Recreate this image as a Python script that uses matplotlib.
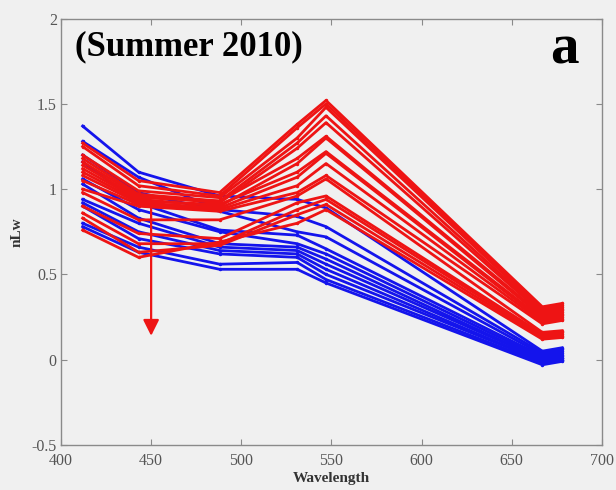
import numpy as np
import matplotlib
matplotlib.use("Agg")
import matplotlib.pyplot as plt

# MODIS band centres (nm)
wavelengths = [412, 443, 488, 531, 547, 667, 678]

# Normalised water-leaving radiance spectra, blue group
blue_spectra = [
    [1.37, 1.10, 0.96, 0.94, 0.89, 0.05, 0.07],
    [1.28, 1.07, 0.88, 0.84, 0.78, 0.04, 0.06],
    [1.20, 0.98, 0.87, 0.75, 0.72, 0.03, 0.05],
    [1.16, 0.92, 0.76, 0.73, 0.65, 0.02, 0.04],
    [1.06, 0.88, 0.75, 0.68, 0.62, 0.01, 0.03],
    [1.03, 0.83, 0.68, 0.66, 0.59, 0.00, 0.02],
    [0.94, 0.80, 0.66, 0.64, 0.56, 0.00, 0.01],
    [0.92, 0.75, 0.64, 0.62, 0.53, -0.01, 0.01],
    [0.90, 0.71, 0.62, 0.60, 0.50, -0.01, 0.00],
    [0.80, 0.66, 0.56, 0.57, 0.47, -0.02, 0.00],
    [0.78, 0.63, 0.53, 0.53, 0.45, -0.03, -0.01],
]

# Red group
red_spectra = [
    [1.27, 1.05, 0.98, 1.38, 1.52, 0.31, 0.33],
    [1.25, 1.02, 0.96, 1.36, 1.50, 0.30, 0.32],
    [1.20, 0.99, 0.95, 1.30, 1.48, 0.29, 0.31],
    [1.18, 0.97, 0.93, 1.27, 1.43, 0.28, 0.30],
    [1.16, 0.96, 0.92, 1.24, 1.39, 0.27, 0.29],
    [1.14, 0.95, 0.93, 1.18, 1.31, 0.26, 0.28],
    [1.12, 0.94, 0.90, 1.15, 1.30, 0.25, 0.27],
    [1.10, 0.93, 0.91, 1.10, 1.22, 0.24, 0.26],
    [1.08, 0.92, 0.89, 1.07, 1.21, 0.23, 0.25],
    [1.05, 0.91, 0.88, 1.02, 1.15, 0.22, 0.24],
    [1.00, 0.90, 0.87, 0.98, 1.08, 0.21, 0.23],
    [0.98, 0.82, 0.82, 0.96, 1.06, 0.16, 0.17],
    [0.90, 0.74, 0.71, 0.92, 0.96, 0.15, 0.16],
    [0.86, 0.68, 0.68, 0.88, 0.94, 0.14, 0.15],
    [0.83, 0.63, 0.67, 0.85, 0.91, 0.13, 0.14],
    [0.76, 0.60, 0.69, 0.80, 0.88, 0.12, 0.13],
]

arrow_x = 450
arrow_from = 0.93
arrow_to = 0.14

x_ticks = [400, 450, 500, 550, 600, 650, 700]
y_ticks = [-0.5, 0, 0.5, 1, 1.5, 2]
y_ticklabels = ["-0.5", "0", "0.5", "1", "1.5", "2"]

bg = "#f0f0f0"
serif = ["Liberation Serif", "DejaVu Serif"]

fig = plt.figure(figsize=(6.16, 4.90), dpi=100, facecolor=bg)
ax = fig.add_axes([0.099, 0.092, 0.878, 0.870], facecolor=bg)

for spec in blue_spectra:
    ax.plot(wavelengths, spec, color="#1414ec", lw=2.0, marker=".", ms=3)
for spec in red_spectra:
    ax.plot(wavelengths, spec, color="#ee1414", lw=2.0, marker=".", ms=3)

ax.annotate("", xy=(arrow_x, arrow_to), xytext=(arrow_x, arrow_from),
            arrowprops=dict(arrowstyle="-|>", color="#ee1414", lw=1.6,
                            mutation_scale=24, shrinkA=0, shrinkB=0))

ax.set_xlim(400, 700)
ax.set_ylim(-0.5, 2)
ax.set_xticks(x_ticks)
ax.set_yticks(y_ticks)
ax.set_yticklabels(y_ticklabels)

for sp in ax.spines.values():
    sp.set_color("#8a8a8a")
    sp.set_linewidth(1.0)
ax.tick_params(direction="in", top=True, right=True, length=4, color="#8a8a8a",
               labelcolor="#555555", labelsize=11.5)
ax.tick_params(axis="x", pad=6)
ax.tick_params(axis="y", pad=3)
for lab in ax.get_xticklabels() + ax.get_yticklabels():
    lab.set_family(serif)

ax.set_xlabel("Wavelength", family=serif, fontweight="bold", fontsize=11,
              color="#333333", labelpad=2)
ax.set_ylabel("nLw", family=serif, fontweight="bold", fontsize=11,
              color="#333333", labelpad=6)

ax.text(0.026, 0.914, "(Summer 2010)", transform=ax.transAxes, family=serif,
        fontweight="bold", fontsize=25, va="baseline", ha="left", color="black")
ax.text(0.957, 0.895, "a", transform=ax.transAxes, family=serif,
        fontweight="bold", fontsize=41, va="baseline", ha="right", color="black")

fig.savefig("out.png", dpi=100, facecolor=bg)
